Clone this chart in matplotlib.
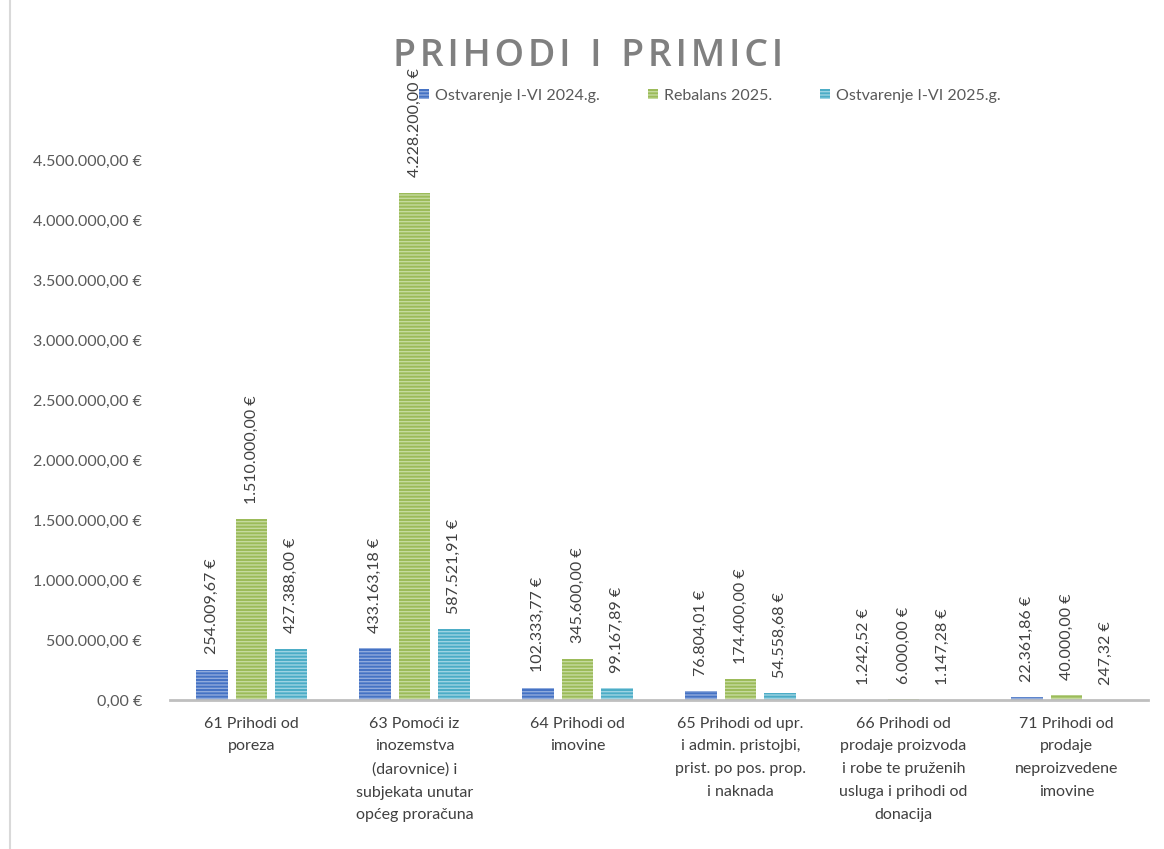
import matplotlib.pyplot as plt
import numpy as np

categories = ["61 Prihodi od\nporeza",
              "63 Pomoći iz\ninozemstva\n(darovnice) i\nsubjekata unutar\nopćeg proračuna",
              "64 Prihodi od\nimovine",
              "65 Prihodi od upr.\ni admin. pristojbi,\nprist. po pos. prop.\ni naknada",
              "66 Prihodi od\nprodaje proizvoda\ni robe te pruženih\nusluga i prihodi od\ndonacija",
              "71 Prihodi od\nprodaje\nneproizvedene\nimovine"]
series_names = ["Ostvarenje I-VI 2024.g.", "Rebalans 2025.", "Ostvarenje I-VI 2025.g."]
ostv_2024 = [254009.67, 433163.18, 102333.77, 76804.01, 1242.52, 22361.86]
rebalans_2025 = [1510000.00, 4228200.00, 345600.00, 174400.00, 6000.00, 40000.00]
ostv_2025 = [427388.00, 587521.91, 99167.89, 54558.68, 1147.28, 247.32]
yticks = [0, 500000, 1000000, 1500000, 2000000, 2500000, 3000000, 3500000, 4000000, 4500000]

colors = ["#4472C4", "#9BBB59", "#4BACC6"]
hatch_colors = ["#8FAADC", "#C5DA9E", "#9DD3E2"]

plt.rcParams['font.family'] = ['Lato', 'DejaVu Sans']
plt.rcParams['hatch.linewidth'] = 1.0


def eur(v):
    s = f"{v:,.2f}"
    return s.replace(",", "X").replace(".", ",").replace("X", ".") + " €"


fig = plt.figure(figsize=(11.64, 8.49), dpi=100)
ax = fig.add_axes([170 / 1164, 1 - 700 / 849, 978 / 1164, 540 / 849])

x = np.arange(len(categories))
step = 0.24
width = 0.196
for i, (vals, name) in enumerate(zip([ostv_2024, rebalans_2025, ostv_2025], series_names)):
    pos = x + (i - 1) * step
    bars = ax.bar(pos, vals, width, color=colors[i], edgecolor=hatch_colors[i],
                  linewidth=0, hatch="-----", label=name)
    for b, v in zip(bars, vals):
        ax.annotate(eur(v), (b.get_x() + b.get_width() / 2, v), textcoords="offset points",
                    xytext=(0, 11), ha="center", va="bottom", rotation=90,
                    fontsize=11.5, color="#404040", annotation_clip=False)

ax.set_xlim(-0.5, len(categories) - 0.5)
ax.set_ylim(0, 4500000)
ax.set_yticks(yticks)
ax.set_yticklabels([eur(v) for v in yticks])
ax.set_xticks(x)
ax.set_xticklabels(categories, fontsize=11.5, color="#404040", linespacing=1.8, va="top")
ax.tick_params(axis="y", length=0, pad=20, labelsize=11.5, labelcolor="#595959")
ax.tick_params(axis="x", length=0, pad=12)
for s in ["top", "right", "left"]:
    ax.spines[s].set_visible(False)
ax.spines["bottom"].set_color("#BFBFBF")
ax.spines["bottom"].set_linewidth(2)

title = "  ".join("\u200a".join(w) for w in "PRIHODI I PRIMICI".split())
fig.text(588 / 1164, 1 - 56 / 849, title,
         ha="center", va="center", fontsize=27, color="#808080", fontweight="semibold",
         family=["Open Sans", "DejaVu Sans"])

fig.legend(loc="center", bbox_to_anchor=(710 / 1164, 1 - 96 / 849), ncol=3, frameon=False,
           fontsize=11.5, handlelength=0.6, handleheight=0.6, handletextpad=0.4,
           columnspacing=3.0, labelcolor="#595959")

fig.add_artist(plt.Line2D([10 / 1164, 10 / 1164], [0, 1], color="#D9D9D9", lw=1.5))

fig.savefig("out.png", dpi=100)
